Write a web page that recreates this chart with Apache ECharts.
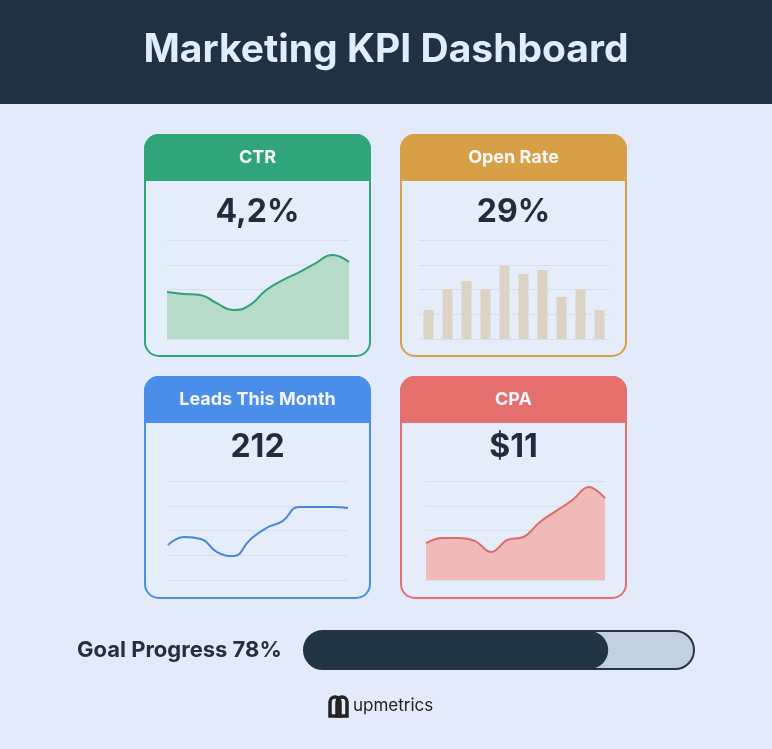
<!DOCTYPE html>
<html><head><meta charset="utf-8">
<script src="https://cdn.jsdelivr.net/npm/echarts@6/dist/echarts.min.js"></script>
<style>html,body{margin:0;padding:0;background:#e3ebfb}#c{width:772px;height:749px}</style>
</head><body><div id="c"></div>
<script>
const title = 'Marketing KPI Dashboard';
const cardTitles = ['CTR', 'Open Rate', 'Leads This Month', 'CPA'];
const cardValues = ['4,2%', '29%', '212', '$11'];
const ctrValues = [1.9, 1.82, 1.78, 1.45, 1.17, 1.37, 1.98, 2.38, 2.7, 3.07, 3.39, 3.11];
const openRateValues = [1.17, 2.0, 2.34, 2.0, 2.95, 2.63, 2.79, 1.7, 2.0, 1.17];
const leadsValues = [1.41, 1.74, 1.66, 1.13, 0.97, 1.62, 2.1, 2.38, 2.95, 2.95, 2.95, 2.91];
const cpaValues = [1.49, 1.7, 1.7, 1.58, 1.13, 1.62, 1.74, 2.34, 2.79, 3.23, 3.76, 3.31];
const goalProgress = 78;

const FONT = 'Inter, "Open Sans", sans-serif';
const colors = ['#30a57b', '#d8a046', '#4b8ee9', '#e56f6d'];
const cards = [[145,135],[401,135],[145,377],[401,377]];
const CW = 225, CH = 221, HH = 45;
const chart = echarts.init(document.getElementById('c'));
const g = [];
g.push({type:'rect', z:0, shape:{x:0,y:0,width:772,height:104}, style:{fill:'#1f3143'}});
g.push({type:'text', z:0, x:386, y:50, style:{text:title, fill:'#e1edfc', font:'bold 39px '+FONT, align:'center', verticalAlign:'middle'}});
cards.forEach((p,i)=>{
  g.push({type:'rect', z:0, shape:{x:p[0],y:p[1],width:CW,height:CH,r:14}, style:{fill:'#e5edfb', stroke:colors[i], lineWidth:2}});
  g.push({type:'rect', z:0, shape:{x:p[0],y:p[1],width:CW,height:HH,r:[14,14,0,0]}, style:{fill:colors[i], stroke:colors[i], lineWidth:2}});
  g.push({type:'text', z:0, x:p[0]+CW/2, y:p[1]+HH/2, style:{text:cardTitles[i], fill:'#f3f6fb', font:'bold 18px '+FONT, align:'center', verticalAlign:'middle'}});
  g.push({type:'text', z:0, x:p[0]+CW/2, y:p[1]+(i<2?77:70), style:{text:cardValues[i], fill:'#1f2d3e', font:'bold 32px '+FONT, align:'center', verticalAlign:'middle'}});
});
g.push({type:'text', z:0, x:77, y:650, style:{text:'Goal Progress '+goalProgress+'%', fill:'#22303f', font:'bold 22px '+FONT, verticalAlign:'middle'}});
g.push({type:'rect', z:0, shape:{x:304,y:631,width:390,height:38,r:19}, style:{fill:'#c4cfdf', stroke:'#243544', lineWidth:2}});
// logo
g.push({type:'rect', z:0, shape:{x:330,y:697,width:10,height:19,r:[5,5,0,0]}, style:{fill:'none', stroke:'#222', lineWidth:3.5}});
g.push({type:'rect', z:0, shape:{x:337,y:697,width:10,height:19,r:[5,5,0,0]}, style:{fill:'none', stroke:'#222', lineWidth:3.5}});
g.push({type:'text', z:0, x:353, y:706, style:{text:'upmetrics', fill:'#222', font:'17px '+FONT, verticalAlign:'middle'}});

const splitLine = {show:true, lineStyle:{color:'#d6dfee', width:1}};
const grids = [
  {left:167, top:240, width:182, height:99},
  {left:419, top:240, width:190, height:99},
  {left:168, top:481, width:180, height:99},
  {left:426, top:481, width:179, height:99},
  {left:304, top:631, width:390, height:38}
];
const mk = (d)=>d.map((_,i)=>String(i+1));
const xAxis = [
  {gridIndex:0, type:'category', data:mk(ctrValues), boundaryGap:false, show:false},
  {gridIndex:1, type:'category', data:mk(openRateValues), show:false},
  {gridIndex:2, type:'category', data:mk(leadsValues), boundaryGap:false, show:false},
  {gridIndex:3, type:'category', data:mk(cpaValues), boundaryGap:false, show:false},
  {gridIndex:4, type:'value', min:0, max:100, show:false}
];
const yAxis = [0,1,2,3].map(i=>({gridIndex:i, type:'value', min:0, max:4, interval:1, axisLabel:{show:false}, axisLine:{show:false}, axisTick:{show:false}, splitLine}));
yAxis.push({gridIndex:4, type:'category', data:['goal'], show:false});
chart.setOption({
  animation:false,
  graphic:{elements:g},
  grid:grids, xAxis, yAxis,
  series:[
    {type:'line', z:5, xAxisIndex:0, yAxisIndex:0, data:ctrValues, smooth:0.5, symbol:'none', lineStyle:{color:'#2f9f77', width:2}, areaStyle:{color:'#b6dcc9', opacity:1}},
    {type:'bar', z:5, xAxisIndex:1, yAxisIndex:1, data:openRateValues, barWidth:10, itemStyle:{color:'#ddd3c5'}},
    {type:'line', z:5, xAxisIndex:2, yAxisIndex:2, data:leadsValues, smooth:0.5, symbol:'none', lineStyle:{color:'#4a86d6', width:2}},
    {type:'line', z:5, xAxisIndex:3, yAxisIndex:3, data:cpaValues, smooth:0.4, symbol:'none', lineStyle:{color:'#e06a68', width:2}, areaStyle:{color:'#efbab8', opacity:1}},
    {type:'bar', z:5, xAxisIndex:4, yAxisIndex:4, data:[goalProgress], barWidth:38, itemStyle:{color:'#223544', borderRadius:19}}
  ]
});
</script></body></html>
